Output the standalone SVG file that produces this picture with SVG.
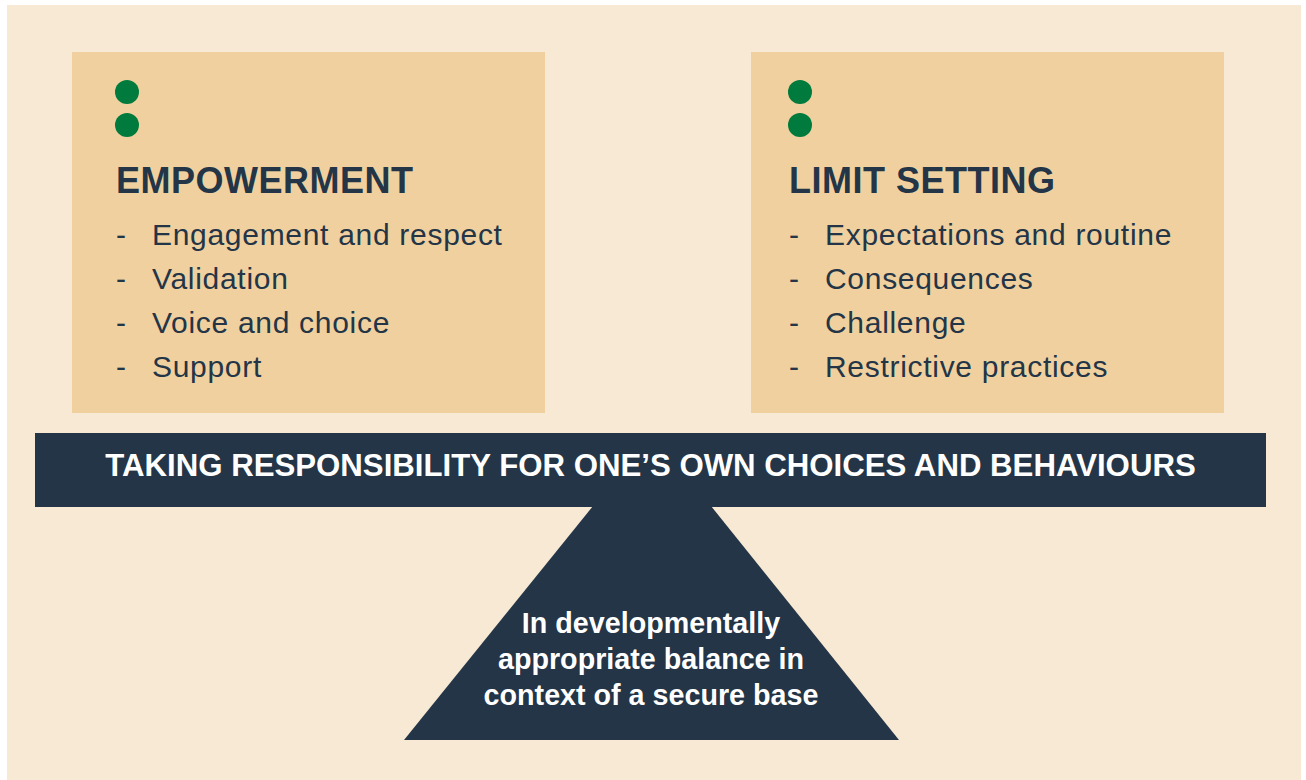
<svg xmlns="http://www.w3.org/2000/svg" width="1306" height="780" viewBox="0 0 1306 780">
<style>
.box{fill:#F0D09E}
.dot{fill:#007A3D}
.dark{fill:#233547}
.head{font-family:"Liberation Sans",Arial,sans-serif;font-weight:bold;font-size:36px;letter-spacing:0.5px;fill:#233547}
.item{font-family:"Liberation Sans",Arial,sans-serif;font-size:30px;letter-spacing:0.7px;fill:#233547}
.beamtxt{font-family:"Liberation Sans",Arial,sans-serif;font-weight:bold;font-size:31.2px;fill:#FFFFFF}
.tritxt{font-family:"Liberation Sans",Arial,sans-serif;font-weight:bold;font-size:28.7px;fill:#FFFFFF}
</style>
<rect x="0" y="0" width="1306" height="780" fill="#FFFFFF"/>
<rect x="7" y="5" width="1294" height="775" fill="#F8E9D4"/>
<g id="empowerment">
<rect class="box" x="72" y="52" width="473" height="361"/>
<circle class="dot" cx="127" cy="92" r="12"/>
<circle class="dot" cx="127" cy="125" r="12"/>
<text class="head" x="116" y="193">EMPOWERMENT</text>
<text class="item" x="116" y="245">-</text><text class="item" x="152" y="245">Engagement and respect</text>
<text class="item" x="116" y="289">-</text><text class="item" x="152" y="289">Validation</text>
<text class="item" x="116" y="333">-</text><text class="item" x="152" y="333">Voice and choice</text>
<text class="item" x="116" y="377">-</text><text class="item" x="152" y="377">Support</text>
</g>
<g id="limit-setting">
<rect class="box" x="751" y="52" width="473" height="361"/>
<circle class="dot" cx="800" cy="92" r="12"/>
<circle class="dot" cx="800" cy="125" r="12"/>
<text class="head" x="789" y="193">LIMIT SETTING</text>
<text class="item" x="789" y="245">-</text><text class="item" x="825" y="245">Expectations and routine</text>
<text class="item" x="789" y="289">-</text><text class="item" x="825" y="289">Consequences</text>
<text class="item" x="789" y="333">-</text><text class="item" x="825" y="333">Challenge</text>
<text class="item" x="789" y="377">-</text><text class="item" x="825" y="377">Restrictive practices</text>
</g>
<g id="fulcrum">
<polygon class="dark" points="593,506 711,506 899,740 404,740"/>
<text class="tritxt" x="651" y="633" text-anchor="middle">In developmentally</text>
<text class="tritxt" x="651" y="669" text-anchor="middle">appropriate balance in</text>
<text class="tritxt" x="651" y="705" text-anchor="middle">context of a secure base</text>
</g>
<g id="beam">
<rect class="dark" x="35" y="433" width="1231" height="74"/>
<text class="beamtxt" x="650.5" y="476" text-anchor="middle">TAKING RESPONSIBILITY FOR ONE’S OWN CHOICES AND BEHAVIOURS</text>
</g>
<g id="connectors"></g>
</svg>
